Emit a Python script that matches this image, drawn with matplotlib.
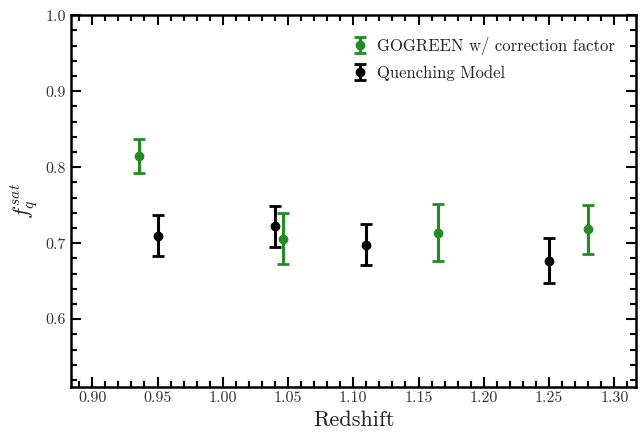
import matplotlib
matplotlib.use("Agg")
import matplotlib.pyplot as plt
from matplotlib.ticker import MultipleLocator

plt.rcParams['font.family'] = ['cmr10', 'DejaVu Serif']
plt.rcParams['mathtext.fontset'] = 'cm'
plt.rcParams['axes.formatter.use_mathtext'] = True

# GOGREEN with correction factor
gg_z = [0.936, 1.046, 1.165, 1.280]
gg_f = [0.815, 0.706, 0.714, 0.718]
gg_err = [0.022, 0.034, 0.037, 0.032]

# Quenching model
qm_z = [0.95, 1.04, 1.11, 1.25]
qm_f = [0.710, 0.722, 0.698, 0.677]
qm_err = [0.027, 0.027, 0.027, 0.030]

fig = plt.figure(figsize=(6.4, 4.36), dpi=100)
ax = fig.add_axes([0.1105, 0.113, 0.884, 0.852])

ax.errorbar(gg_z, gg_f, yerr=gg_err, fmt='o', color='forestgreen', ms=6,
            elinewidth=2.2, capsize=4, capthick=2, label='GOGREEN w/ correction factor')
ax.errorbar(qm_z, qm_f, yerr=qm_err, fmt='o', color='black', ms=6,
            elinewidth=2.2, capsize=4, capthick=2, label='Quenching Model')

ax.set_xlim(0.8835, 1.317)
ax.set_ylim(0.511, 1.0)
ax.xaxis.set_major_locator(MultipleLocator(0.05))
ax.xaxis.set_minor_locator(MultipleLocator(0.01))
ax.yaxis.set_major_locator(MultipleLocator(0.1))
ax.yaxis.set_minor_locator(MultipleLocator(0.02))
ax.xaxis.set_major_formatter(plt.FormatStrFormatter('%.2f'))
ax.yaxis.set_major_formatter(plt.FormatStrFormatter('%.1f'))

ax.tick_params(which='both', direction='in', top=True, right=True, width=1.5,
               labelsize=11.5, labelcolor='#333333')
ax.tick_params(which='major', length=7)
ax.tick_params(which='minor', length=4)
for s in ax.spines.values():
    s.set_linewidth(1.8)

ax.set_xlabel('Redshift', fontsize=16, color='#222222')
ax.set_ylabel(r'$f_q^{sat}$', fontsize=16, color='#222222')

ax.legend(loc='upper right', frameon=False, fontsize=12, handlelength=1.0,
          handletextpad=0.5, borderaxespad=0.9, labelspacing=0.6,
          labelcolor='#222222')

fig.savefig('out.png', dpi=100)
